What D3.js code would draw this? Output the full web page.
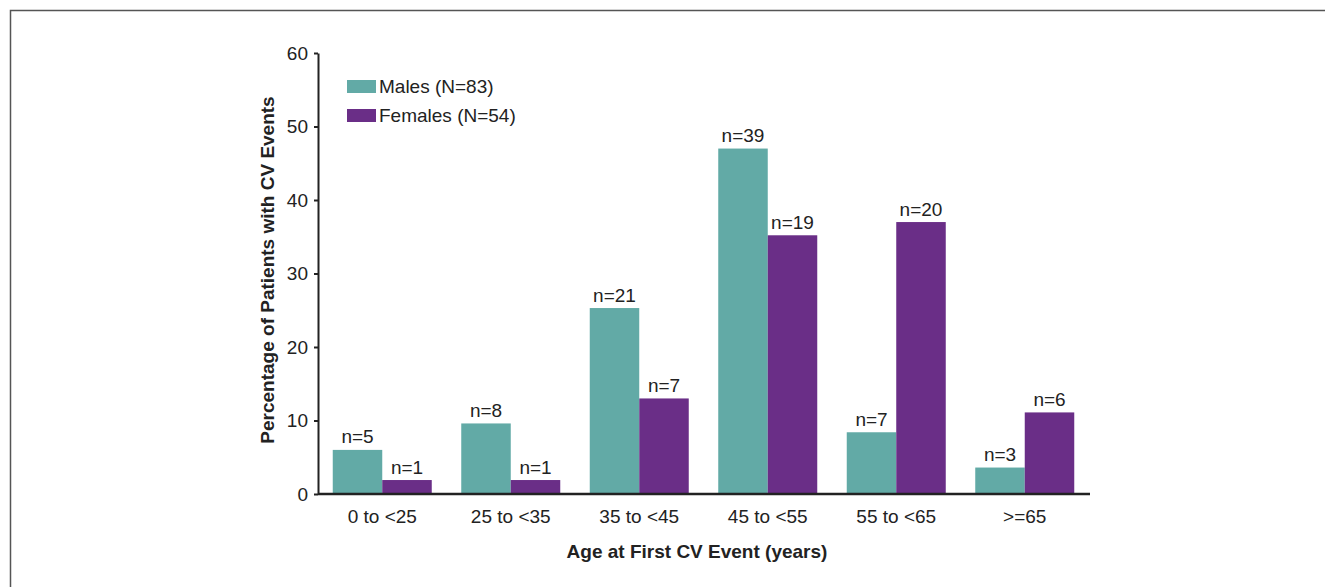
<!DOCTYPE html>
<html>
<head>
<meta charset="utf-8">
<script src="https://cdn.jsdelivr.net/npm/d3@7"></script>
<style>
  html, body { margin: 0; padding: 0; background: #fff; }
  svg { display: block; font-family: "Liberation Sans", Arial, sans-serif; }
</style>
</head>
<body>
<svg id="chart" width="1325" height="587"></svg>
<script>
const categories = ["0 to <25", "25 to <35", "35 to <45", "45 to <55", "55 to <65", ">=65"];
const seriesNames = ["Males (N=83)", "Females (N=54)"];
const malesPct = [6.0, 9.6, 25.3, 47.0, 8.4, 3.6];
const femalesPct = [1.9, 1.9, 13.0, 35.2, 37.0, 11.1];
const malesN = ["n=5", "n=8", "n=21", "n=39", "n=7", "n=3"];
const femalesN = ["n=1", "n=1", "n=7", "n=19", "n=20", "n=6"];
const yTicks = [0, 10, 20, 30, 40, 50, 60];
const colors = ["#62aaa6", "#6a2e87"];

const FS = 19;
const svg = d3.select("#chart");
const plotLeft = 318, plotRight = 1089, plotTop = 53, plotBottom = 494;

// frame
svg.append("path")
  .attr("d", `M10.5,587 L10.5,10.5 L1325,10.5`)
  .attr("fill", "none").attr("stroke", "#555").attr("stroke-width", 1.5);

const x = d3.scaleBand().domain(categories).range([plotLeft, plotRight]).padding(0);
const y = d3.scaleLinear().domain([0, 60]).range([plotBottom, plotTop]);
const barW = 49.5;

const series = [malesPct, femalesPct];
const labels = [malesN, femalesN];

series.forEach((vals, si) => {
  const g = svg.append("g");
  g.selectAll("rect").data(vals).join("rect")
    .attr("x", (d, i) => x(categories[i]) + x.bandwidth() / 2 - barW + si * barW)
    .attr("width", barW)
    .attr("y", d => y(d))
    .attr("height", d => y(0) - y(d))
    .attr("fill", colors[si]);
  g.selectAll("text").data(vals).join("text")
    .attr("x", (d, i) => x(categories[i]) + x.bandwidth() / 2 - barW / 2 + si * barW)
    .attr("y", d => y(d) - 6.5)
    .attr("text-anchor", "middle")
    .attr("font-size", FS)
    .attr("fill", "#222")
    .text((d, i) => labels[si][i]);
});

// y axis
const yAxis = svg.append("g").attr("transform", `translate(${plotLeft},0)`)
  .call(d3.axisLeft(y).tickValues(yTicks).tickSize(4).tickPadding(6).tickSizeOuter(0));
yAxis.select(".domain").attr("stroke", "#222").attr("stroke-width", 2);
yAxis.selectAll(".tick line").attr("stroke", "#222").attr("stroke-width", 2);
yAxis.selectAll(".tick text").attr("font-size", FS).attr("fill", "#222")
  .attr("font-family", "Liberation Sans, Arial, sans-serif");

// x axis
const xAxis = svg.append("g").attr("transform", `translate(0,${plotBottom})`)
  .call(d3.axisBottom(x).tickSize(0).tickPadding(16));
xAxis.select(".domain").attr("d", `M${plotLeft},0H${plotRight + 1}`).attr("stroke", "#222").attr("stroke-width", 2.5);
xAxis.selectAll(".tick text").attr("font-size", FS).attr("fill", "#222")
  .attr("font-family", "Liberation Sans, Arial, sans-serif");

// axis titles
svg.append("text")
  .attr("x", 697).attr("y", 558)
  .attr("text-anchor", "middle").attr("font-size", FS).attr("font-weight", "bold").attr("fill", "#222")
  .text("Age at First CV Event (years)");
svg.append("text")
  .attr("transform", `translate(274,270) rotate(-90)`)
  .attr("text-anchor", "middle").attr("font-size", FS).attr("font-weight", "bold").attr("fill", "#222")
  .text("Percentage of Patients with CV Events");

// legend
const legend = svg.append("g");
seriesNames.forEach((name, i) => {
  legend.append("rect").attr("x", 347).attr("y", 80 + i * 29).attr("width", 29).attr("height", 13)
    .attr("fill", colors[i]);
  legend.append("text").attr("x", 379).attr("y", 93 + i * 29)
    .attr("font-size", FS).attr("fill", "#222").text(name);
});
</script>
</body>
</html>
